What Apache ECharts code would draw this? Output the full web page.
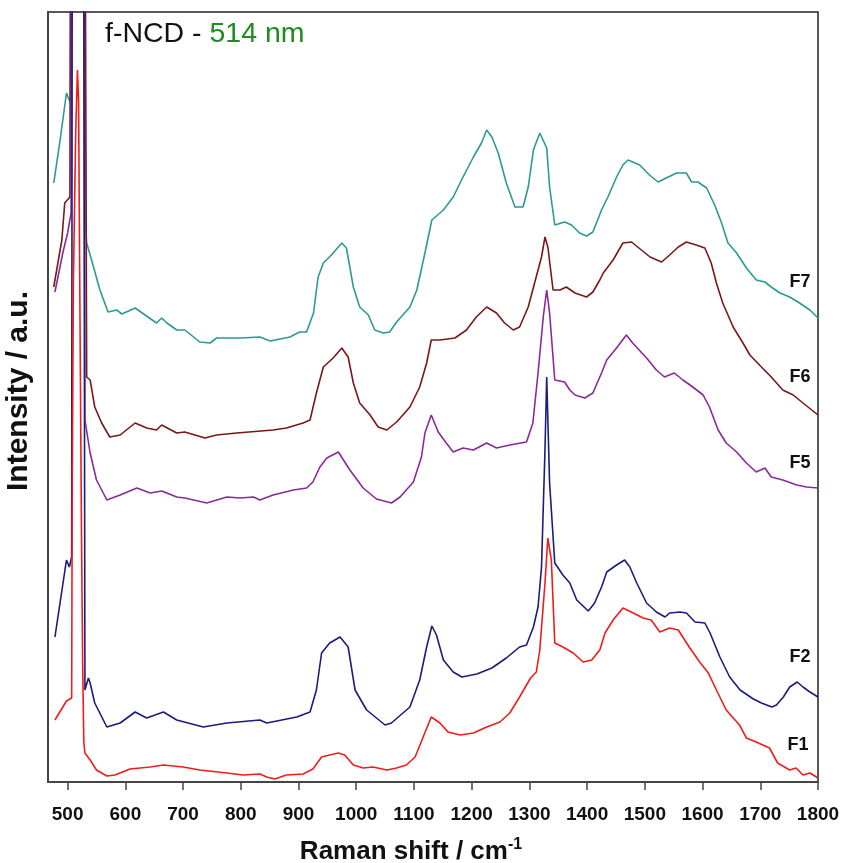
<!DOCTYPE html>
<html><head><meta charset="utf-8">
<script src="https://cdn.jsdelivr.net/npm/echarts@6/dist/echarts.min.js"></script>
<style>html,body{margin:0;padding:0;background:#fff;overflow:hidden}#c{width:841px;height:863px}</style>
</head><body><div id="c"></div>
<script>
const tickValues = [500,600,700,800,900,1000,1100,1200,1300,1400,1500,1600,1700,1800];
const seriesNames = ['F7','F6','F5','F2','F1'];

const F7 = [[476,599],[487,642],[498,689],[505,679],[508,1500],[526,1500],[531,560],[533,539],[540,525],[556,492],[570,470],[585,472],[594,468],[617,474],[654,459],[663,464],[672,459],[689,452],[703,452],[729,440],[747,439],[758,444],[799,444],[833,445],[851,441],[885,445],[902,450],[914,450],[926,469],[934,505],[943,519],[957,527],[975,539],[983,534],[995,495],[1006,475],[1021,467],[1032,452],[1047,449],[1058,450],[1070,460],[1093,475],[1105,492],[1119,529],[1131,562],[1151,572],[1168,585],[1185,605],[1203,625],[1217,639],[1226,652],[1235,645],[1246,629],[1260,599],[1275,575],[1289,575],[1298,595],[1307,632],[1318,649],[1330,634],[1335,595],[1344,557],[1361,560],[1373,557],[1387,549],[1399,546],[1410,550],[1425,572],[1436,585],[1451,605],[1462,617],[1471,622],[1491,617],[1508,607],[1523,600],[1537,604],[1555,609],[1572,609],[1581,600],[1592,600],[1607,594],[1621,577],[1633,559],[1644,539],[1659,529],[1676,514],[1693,502],[1708,500],[1719,495],[1734,489],[1751,485],[1768,479],[1786,472],[1800,464]];

const F6 = [[476,495],[490,542],[495,579],[504,585],[507,1500],[527,1500],[533,405],[539,402],[547,375],[559,359],[573,345],[591,347],[617,359],[637,354],[654,352],[663,357],[689,349],[703,350],[738,344],[758,347],[793,349],[856,352],[879,354],[908,359],[920,362],[931,389],[943,415],[960,424],[975,434],[986,425],[995,399],[1006,379],[1024,367],[1038,355],[1053,352],[1070,360],[1093,375],[1110,395],[1122,419],[1130,442],[1145,442],[1171,444],[1191,452],[1208,465],[1226,475],[1243,469],[1257,459],[1272,452],[1283,455],[1298,475],[1309,499],[1321,525],[1327,545],[1332,535],[1341,492],[1353,492],[1364,495],[1379,489],[1399,485],[1410,490],[1422,502],[1428,509],[1445,522],[1462,539],[1477,540],[1494,532],[1509,525],[1529,520],[1543,527],[1558,535],[1572,540],[1589,537],[1604,534],[1615,519],[1624,499],[1635,479],[1653,455],[1670,439],[1682,427],[1702,415],[1719,405],[1739,392],[1757,387],[1774,379],[1800,367]];

const F5 = [[478,490],[492,530],[500,549],[506,569],[508,1500],[527,1500],[530,362],[539,329],[550,302],[568,282],[591,287],[620,294],[643,289],[663,291],[689,285],[703,284],[741,279],[776,285],[799,284],[822,285],[833,282],[856,287],[891,292],[914,294],[925,300],[937,315],[949,324],[969,330],[989,312],[1012,294],[1035,283],[1061,279],[1076,285],[1099,300],[1113,325],[1119,349],[1130,367],[1142,350],[1156,339],[1168,330],[1185,334],[1203,332],[1226,339],[1243,334],[1266,337],[1295,340],[1306,359],[1315,409],[1324,465],[1330,492],[1335,469],[1344,402],[1361,400],[1370,392],[1379,387],[1396,384],[1410,389],[1425,409],[1434,422],[1451,434],[1468,447],[1479,439],[1503,424],[1520,412],[1534,405],[1551,409],[1566,402],[1583,395],[1601,387],[1612,375],[1627,352],[1641,339],[1659,330],[1676,319],[1693,310],[1708,314],[1719,305],[1739,302],[1763,297],[1780,295],[1800,294]];

const F2 = [[478,145],[498,222],[503,215],[507,225],[509,1500],[526,1500],[530,92],[536,104],[539,99],[547,79],[568,55],[591,59],[617,70],[637,64],[666,70],[689,62],[735,55],[776,59],[833,62],[845,59],[897,65],[920,70],[931,92],[940,129],[954,139],[972,145],[986,135],[998,92],[1018,72],[1050,57],[1061,59],[1093,75],[1110,102],[1122,135],[1131,156],[1139,147],[1151,122],[1168,110],[1183,105],[1209,108],[1235,114],[1260,124],[1283,135],[1295,137],[1307,155],[1315,175],[1321,215],[1327,332],[1330,405],[1335,299],[1344,219],[1358,207],[1370,199],[1382,182],[1402,171],[1413,179],[1425,195],[1434,210],[1451,217],[1465,222],[1474,215],[1486,199],[1503,179],[1520,170],[1535,165],[1543,169],[1561,170],[1572,169],[1587,160],[1604,159],[1613,149],[1630,125],[1647,105],[1665,92],[1688,83],[1702,79],[1720,75],[1728,77],[1740,85],[1751,95],[1764,100],[1774,95],[1786,90],[1800,85]];

const F1 = [[478,62],[498,81],[507,84],[508,300],[510,500],[514,650],[517,712],[519,680],[521,500],[524,250],[526,120],[528,40],[530,29],[539,22],[550,12],[568,6],[582,7],[608,13],[643,15],[666,17],[700,15],[729,12],[776,9],[804,7],[833,8],[845,5],[859,3],[879,7],[908,8],[925,13],[940,25],[954,27],[969,29],[980,27],[995,17],[1012,14],[1029,15],[1053,12],[1070,14],[1087,17],[1102,25],[1116,45],[1130,65],[1145,59],[1159,50],[1180,47],[1203,49],[1226,55],[1249,60],[1266,69],[1283,85],[1302,104],[1312,110],[1318,132],[1327,199],[1332,244],[1338,222],[1344,139],[1358,135],[1376,129],[1393,120],[1408,122],[1422,132],[1431,149],[1445,162],[1462,174],[1480,169],[1497,164],[1511,162],[1526,150],[1543,154],[1558,152],[1578,134],[1595,120],[1610,109],[1624,92],[1641,72],[1664,57],[1676,44],[1693,40],[1716,34],[1730,19],[1751,12],[1762,14],[1774,7],[1786,9],[1800,4]];

const seriesData = [F7, F6, F5, F2, F1];
const seriesColors = ['#2b9a93', '#7a1818', '#8a2a9a', '#1c1c7c', '#f01c1c'];
const labelPos = [[800,282],[800,377],[800,463],[800,657],[798,745]];

const FONT = 'Liberation Sans, Arial, Helvetica, sans-serif';
const chart = echarts.init(document.getElementById('c'), null, {renderer: 'canvas'});

const option = {
  animation: false,
  backgroundColor: '#fff',
  textStyle: {fontFamily: FONT},
  title: {
    text: '{a|f-NCD - }{b|514 nm}',
    left: 100, top: 15,
    textStyle: {
      fontWeight: 'normal',
      rich: {
        a: {fontSize: 28.5, fontWeight: 'normal', color: '#111', fontFamily: FONT},
        b: {fontSize: 28.5, fontWeight: 'normal', color: '#1e8c1e', fontFamily: FONT}
      }
    }
  },
  grid: {left: 48, right: 23, top: 12, bottom: 81, outerBoundsMode: 'none', containLabel: false, show: true, borderColor: '#222', borderWidth: 1.5},
  xAxis: {
    type: 'value', min: 466, max: 1800,
    axisLine: {lineStyle: {color: '#444', width: 2}},
    axisTick: {customValues: tickValues, length: 8, lineStyle: {color: '#444', width: 1.5}},
    axisLabel: {customValues: tickValues, formatter: v => String(v), fontSize: 19, fontWeight: 'bold', color: '#111', margin: 23, fontFamily: FONT},
    splitLine: {show: false},
    name: '{a|Raman shift / cm}{s|-1}',
    nameLocation: 'middle', nameGap: 55,
    nameTextStyle: {
      padding: [0, 44, 0, 0],
      rich: {
        a: {fontSize: 26, fontWeight: 'bold', color: '#111', fontFamily: FONT, lineHeight: 30},
        s: {fontSize: 16, fontWeight: 'bold', color: '#111', fontFamily: FONT, lineHeight: 14, verticalAlign: 'top'}
      }
    }
  },
  yAxis: {
    type: 'value', min: 0, max: 770,
    axisLine: {show: true, lineStyle: {color: '#444', width: 2}},
    axisTick: {show: false},
    axisLabel: {show: false},
    splitLine: {show: false},
    name: 'Intensity / a.u.',
    nameLocation: 'middle', nameGap: 14,
    nameTextStyle: {fontSize: 30, fontWeight: 'bold', color: '#111', fontFamily: FONT, padding: [0, 0, 0, 12]}
  },
  series: seriesNames.map((n, i) => ({
    name: n, type: 'line', data: seriesData[i],
    showSymbol: false, symbol: 'none', clip: true,
    lineStyle: {color: seriesColors[i], width: 1.6},
    itemStyle: {color: seriesColors[i]},
    z: 2 + i
  })),
  graphic: seriesNames.map((n, i) => ({
    type: 'text', x: labelPos[i][0], y: labelPos[i][1], z: 100,
    style: {text: n, fontSize: 18, fontWeight: 'bold', fontFamily: FONT, fill: '#111', align: 'center', verticalAlign: 'middle'}
  }))
};
chart.setOption(option);
</script>
</body></html>
